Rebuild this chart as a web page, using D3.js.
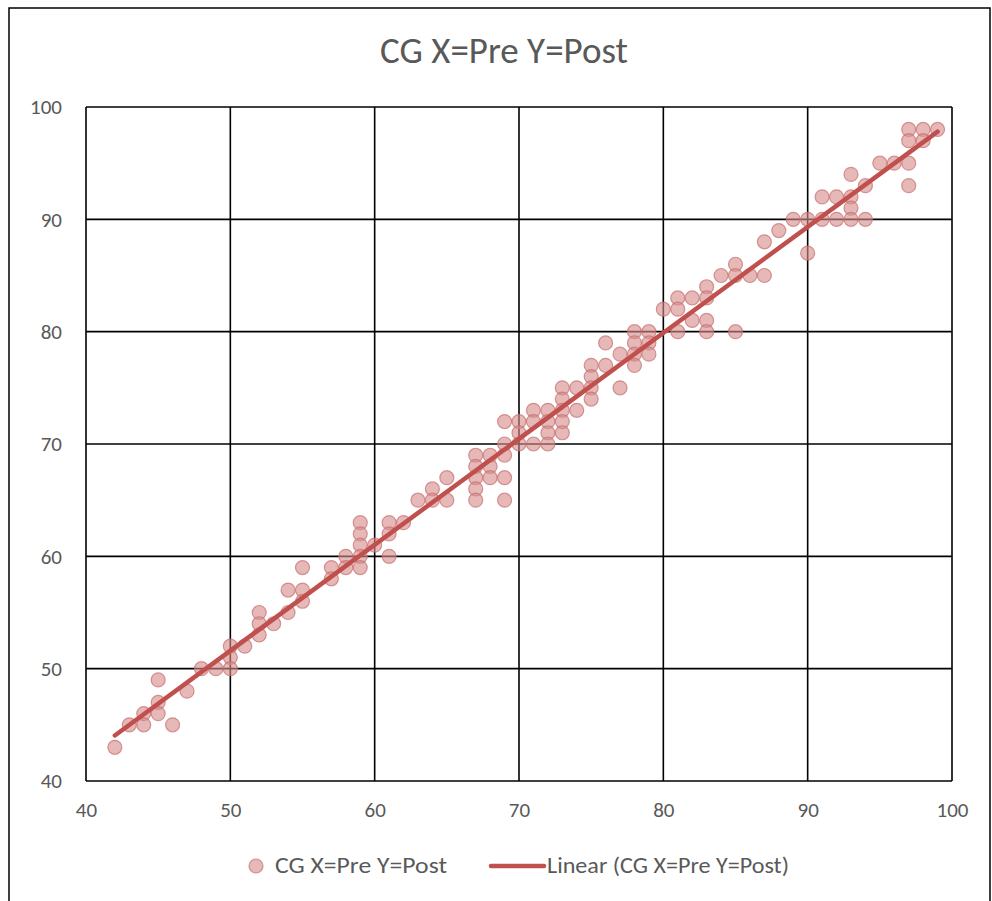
<!DOCTYPE html>
<html><head><meta charset="utf-8">
<script src="https://cdn.jsdelivr.net/npm/d3@7/dist/d3.min.js"></script>
<style>
html,body{margin:0;padding:0;background:#fff;}
text{font-family:Carlito,"Liberation Sans Narrow","Open Sans",sans-serif;}
</style></head>
<body><svg id="c" width="992" height="901"></svg>
<script>
const title = "CG X=Pre Y=Post";
const seriesName = "CG X=Pre Y=Post";
const trendName = "Linear (CG X=Pre Y=Post)";
const xTicks = [40,50,60,70,80,90,100];
const yTicks = [40,50,60,70,80,90,100];
const preScores = [42,43,44,44,45,45,45,46,47,48,49,50,50,50,51,52,52,52,53,54,54,55,55,55,57,57,58,58,59,59,59,59,59,60,61,61,61,62,63,64,64,65,65,67,67,67,67,67,68,68,68,69,69,69,69,69,70,70,70,71,71,71,72,72,72,72,73,73,73,73,73,74,74,75,75,75,75,76,76,77,77,78,78,78,78,79,79,79,80,81,81,81,82,82,83,83,83,83,84,85,85,85,86,87,87,88,89,90,90,91,91,92,92,93,93,93,93,94,94,95,96,97,97,97,97,98,98,99];
const postScores = [43,45,46,45,49,47,46,45,48,50,50,52,51,50,52,55,54,53,54,57,55,59,57,56,59,58,60,59,63,62,61,60,59,61,63,62,60,63,65,66,65,67,65,69,68,67,66,65,69,68,67,72,70,69,67,65,72,71,70,73,72,70,73,72,71,70,75,74,73,72,71,75,73,77,76,75,74,79,77,78,75,80,79,78,77,80,79,78,82,83,82,80,83,81,84,83,81,80,85,86,85,80,85,88,85,89,90,90,87,92,90,92,90,94,92,91,90,93,90,95,95,98,97,95,93,98,97,98];

const svg = d3.select("#c");
const W = 992, H = 901;
const m = {left:86, right:952, top:107, bottom:781};
const x = d3.scaleLinear().domain([40,100]).range([m.left, m.right]);
const y = d3.scaleLinear().domain([40,100]).range([m.bottom, m.top]);
const txt = "#595959";

// outer chart border
svg.append("rect").attr("x",9).attr("y",8).attr("width",W-11).attr("height",H+10)
  .attr("fill","#fff").attr("stroke","#000").attr("stroke-width",1.5);

svg.append("text").attr("x",504).attr("y",63).attr("text-anchor","middle")
  .attr("font-size",37).attr("fill",txt).text(title);

// grid
const g = svg.append("g");
g.selectAll(".gx").data(xTicks).join("line")
  .attr("x1",d=>x(d)).attr("x2",d=>x(d)).attr("y1",m.top).attr("y2",m.bottom)
  .attr("stroke","#000").attr("stroke-width",1.6);
g.selectAll(".gy").data(yTicks).join("line")
  .attr("y1",d=>y(d)).attr("y2",d=>y(d)).attr("x1",m.left).attr("x2",m.right)
  .attr("stroke","#000").attr("stroke-width",1.6);

// axes labels
const xa = svg.append("g").attr("transform",`translate(0,${m.bottom})`)
  .call(d3.axisBottom(x).tickValues(xTicks).tickSize(0).tickPadding(21));
xa.select(".domain").remove();
xa.selectAll("text").attr("font-size",21).attr("fill",txt).attr("font-family",null);
const ya = svg.append("g").attr("transform",`translate(${m.left},0)`)
  .call(d3.axisLeft(y).tickValues(yTicks).tickSize(0).tickPadding(24));
ya.select(".domain").remove();
ya.selectAll("text").attr("font-size",21).attr("fill",txt).attr("font-family",null);

// points
const pts = preScores.map((d,i)=>({x:d,y:postScores[i]}));
svg.append("g").selectAll("circle").data(pts).join("circle")
  .attr("cx",d=>x(d.x)).attr("cy",d=>y(d.y)).attr("r",7)
  .attr("fill","rgba(214,140,140,0.62)").attr("stroke","rgba(200,110,110,0.7)").attr("stroke-width",1.2);

// linear trendline (least squares)
const mx = d3.mean(pts,d=>d.x), my = d3.mean(pts,d=>d.y);
const slope = d3.sum(pts,d=>(d.x-mx)*(d.y-my))/d3.sum(pts,d=>(d.x-mx)**2);
const icpt = my - slope*mx;
const [x0,x1] = d3.extent(pts,d=>d.x);
svg.append("line").attr("x1",x(x0)).attr("y1",y(icpt+slope*x0)).attr("x2",x(x1)).attr("y2",y(icpt+slope*x1))
  .attr("stroke","#C0504D").attr("stroke-width",4.5).attr("stroke-linecap","round");

// legend
const ly = 866;
svg.append("circle").attr("cx",256).attr("cy",ly).attr("r",7)
  .attr("fill","rgba(214,140,140,0.62)").attr("stroke","rgba(200,110,110,0.7)").attr("stroke-width",1.2);
svg.append("text").attr("x",275).attr("y",ly+7).attr("font-size",23).attr("fill",txt)
  .attr("textLength",172).attr("lengthAdjust","spacingAndGlyphs").text(seriesName);
svg.append("line").attr("x1",491).attr("x2",544).attr("y1",ly).attr("y2",ly)
  .attr("stroke","#C0504D").attr("stroke-width",4.5).attr("stroke-linecap","round");
svg.append("text").attr("x",547).attr("y",ly+7).attr("font-size",23).attr("fill",txt)
  .attr("textLength",242).attr("lengthAdjust","spacingAndGlyphs").text(trendName);
</script></body></html>
